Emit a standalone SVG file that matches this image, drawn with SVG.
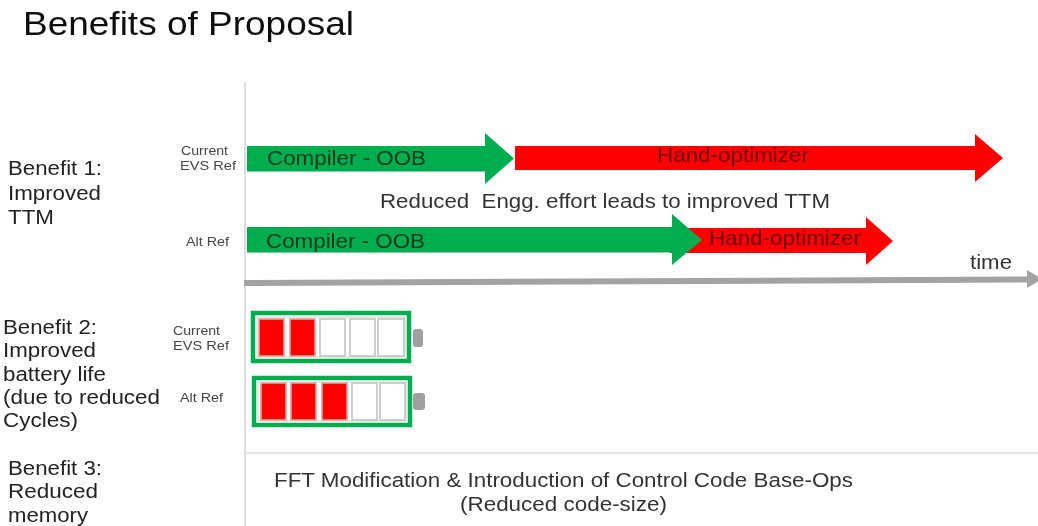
<svg xmlns="http://www.w3.org/2000/svg" width="1038" height="526" viewBox="0 0 1038 526">
<style>
text{font-family:"Liberation Sans",Arial,sans-serif;fill:#222}
.b{font-size:20.500px}
.s{font-size:13.500px;fill:#444}
.a{font-size:20.500px;fill:#0c3a1a}
.h{font-size:20.500px;fill:#6a0000}
.n{font-size:20.500px;fill:#333}
.g{fill:#00ae50}
.r{fill:#ff0000}
.bat{fill:#fff;stroke:#00ae50;stroke-width:4.5}
.in{fill:none;stroke:#d0d0d0;stroke-width:1}
.cell{stroke:#c4c4c4;stroke-width:1.6;fill:#fff}
.on{fill:#ff0000;stroke:#e0a0a0}
.nub{fill:#a0a0a0}
</style>
<defs><filter id="soft" x="-5%" y="-5%" width="110%" height="110%"><feGaussianBlur stdDeviation="0.45"/></filter></defs>
<rect width="1038" height="526" fill="#fff"/>
<g filter="url(#soft)">
<text id="title" x="23" y="35" textLength="331" lengthAdjust="spacingAndGlyphs" style="font-size:33px;fill:#111">Benefits of Proposal</text>
<g id="connectors">
<path d="M245 82V526" stroke="#dcdcdc" stroke-width="2" fill="none"/>
<path d="M245 453H1038" stroke="#dcdcdc" stroke-width="1.5" fill="none"/>
<path d="M244 280 244 286 1027 282.500 1027 288 1042 279 1027 270 1027 276.500Z" fill="#a3a3a3"/>
</g>
<g id="benefit1">
<text class="b" x="8" y="175" textLength="94" lengthAdjust="spacingAndGlyphs">Benefit 1:</text>
<text class="b" x="8" y="200" textLength="93" lengthAdjust="spacingAndGlyphs">Improved</text>
<text class="b" x="8" y="224" textLength="46" lengthAdjust="spacingAndGlyphs">TTM</text>
</g>
<g id="benefit2">
<text class="b" x="3" y="334" textLength="94" lengthAdjust="spacingAndGlyphs">Benefit 2:</text>
<text class="b" x="3" y="357" textLength="93" lengthAdjust="spacingAndGlyphs">Improved</text>
<text class="b" x="3" y="381" textLength="103" lengthAdjust="spacingAndGlyphs">battery life</text>
<text class="b" x="3" y="404" textLength="157" lengthAdjust="spacingAndGlyphs">(due to reduced</text>
<text class="b" x="3" y="427" textLength="75" lengthAdjust="spacingAndGlyphs">Cycles)</text>
</g>
<g id="benefit3">
<text class="b" x="8" y="475" textLength="94" lengthAdjust="spacingAndGlyphs">Benefit 3:</text>
<text class="b" x="8" y="498" textLength="90" lengthAdjust="spacingAndGlyphs">Reduced</text>
<text class="b" x="8" y="522" textLength="80" lengthAdjust="spacingAndGlyphs">memory</text>
</g>
<g id="ref-labels">
<text class="s" x="181" y="155" textLength="47" lengthAdjust="spacingAndGlyphs">Current</text>
<text class="s" x="180" y="170" textLength="56" lengthAdjust="spacingAndGlyphs">EVS Ref</text>
<text class="s" x="186" y="246" textLength="43" lengthAdjust="spacingAndGlyphs">Alt Ref</text>
<text class="s" x="173" y="335" textLength="47" lengthAdjust="spacingAndGlyphs">Current</text>
<text class="s" x="173" y="350" textLength="56" lengthAdjust="spacingAndGlyphs">EVS Ref</text>
<text class="s" x="180" y="402" textLength="43" lengthAdjust="spacingAndGlyphs">Alt Ref</text>
</g>
<g id="arrow-hand-1">
<path class="r" d="M515 146H975V134L1003 158 975 182V170H515Z"/>
<text class="h" x="657" y="162" textLength="152" lengthAdjust="spacingAndGlyphs">Hand-optimizer</text>
</g>
<g id="arrow-compiler-1">
<path class="g" d="M247 146H485V133L514 158.500 485 184V171.500H247Z"/>
<text class="a" x="267" y="165" textLength="159" lengthAdjust="spacingAndGlyphs">Compiler - OOB</text>
</g>
<text id="note" class="n" x="380" y="208" textLength="450" lengthAdjust="spacingAndGlyphs" xml:space="preserve">Reduced  Engg. effort leads to improved TTM</text>
<g id="arrow-hand-2">
<path class="r" d="M670 228H866V217L893 241 866 265V253H670Z"/>
<text class="h" x="709" y="245" textLength="152" lengthAdjust="spacingAndGlyphs">Hand-optimizer</text>
</g>
<g id="arrow-compiler-2">
<path class="g" d="M247 227H672V214L702 240 672 265V252.500H247Z"/>
<text class="a" x="266" y="248" textLength="159" lengthAdjust="spacingAndGlyphs">Compiler - OOB</text>
</g>
<text id="time" class="n" x="970" y="269" textLength="42" lengthAdjust="spacingAndGlyphs">time</text>
<g id="battery-1">
<rect class="bat" x="253" y="313" width="156" height="48"/>
<rect class="in" x="257" y="317" width="148" height="40"/>
<rect class="cell on" x="259" y="319" width="25" height="37"/>
<rect class="cell on" x="290" y="319" width="25" height="37"/>
<rect class="cell" x="320" y="319" width="25" height="37"/>
<rect class="cell" x="350" y="319" width="25" height="37"/>
<rect class="cell" x="378" y="319" width="26" height="37"/>
<rect class="nub" x="413" y="329" width="10" height="18" rx="3"/>
</g>
<g id="battery-2">
<rect class="bat" x="254" y="378" width="156" height="47"/>
<rect class="in" x="258" y="382" width="148" height="39"/>
<rect class="cell on" x="261" y="383" width="25" height="37"/>
<rect class="cell on" x="291" y="383" width="25" height="37"/>
<rect class="cell on" x="322" y="383" width="25" height="37"/>
<rect class="cell" x="352" y="383" width="25" height="37"/>
<rect class="cell" x="380" y="383" width="25" height="37"/>
<rect class="nub" x="413" y="393" width="12" height="17" rx="3"/>
</g>
<g id="benefit3-text">
<text class="n" x="274" y="487" textLength="579" lengthAdjust="spacingAndGlyphs">FFT Modification &amp; Introduction of Control Code Base-Ops</text>
<text class="n" x="460" y="511" textLength="207" lengthAdjust="spacingAndGlyphs">(Reduced code-size)</text>
</g>
</g>
</svg>
